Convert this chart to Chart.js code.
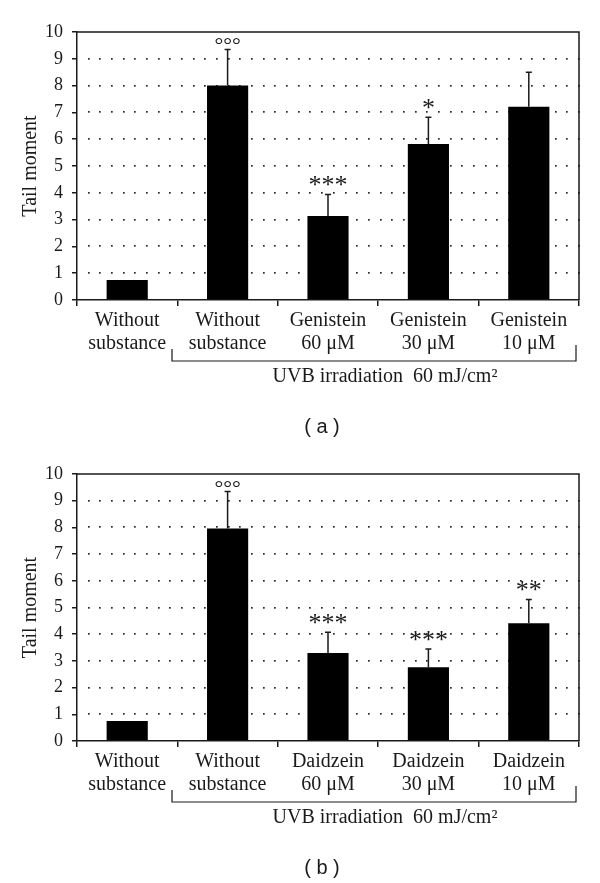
<!DOCTYPE html>
<html>
<head>
<meta charset="utf-8">
<script src="https://cdn.jsdelivr.net/npm/chart.js@4.4.1/dist/chart.umd.min.js"></script>
<style>
  html, body { margin: 0; padding: 0; background: #fff; }
  #wrap { position: relative; width: 600px; height: 883px; }
  canvas { position: absolute; left: 0; }
</style>
</head>
<body>
<div id="wrap">
  <canvas id="chartA" width="600" height="441" style="top:0"></canvas>
  <canvas id="chartB" width="600" height="442" style="top:441px"></canvas>
</div>
<script>
// ---- data ----
const categoriesA = [["Without", "substance"], ["Without", "substance"], ["Genistein", "60 μM"], ["Genistein", "30 μM"], ["Genistein", "10 μM"]];
const valuesA = [0.75, 8.0, 3.13, 5.82, 7.21];
const errorsA = [0, 1.35, 0.81, 1.0, 1.29];
const marksA = ["", "°°°", "***", "*", ""];

const categoriesB = [["Without", "substance"], ["Without", "substance"], ["Daidzein", "60 μM"], ["Daidzein", "30 μM"], ["Daidzein", "10 μM"]];
const valuesB = [0.75, 7.96, 3.30, 2.76, 4.41];
const errorsB = [0, 1.38, 0.77, 0.69, 0.89];
const marksB = ["", "°°°", "***", "***", "**"];

const yMin = 0, yMax = 10, yStep = 1;
const yTitle = "Tail moment";
const groupLabel = "UVB irradiation  60 mJ/cm²";

const INK = '#1a1a1a';
const SERIF = "'Liberation Serif', 'Times New Roman', serif";
const SANS = "'Liberation Sans', Arial, sans-serif";

function makeChart(id, cats, vals, errs, marks, caption, topPad, canvasH) {
  const extras = {
    id: 'extras_' + id,
    beforeDatasetsDraw(chart) {
      const {ctx, chartArea: a, scales: {y}} = chart;
      ctx.save();
      ctx.fillStyle = '#2a2a2a';
      const n = 43;
      const step = (a.right - a.left) / n;
      for (let v = yMin + yStep; v < yMax; v += yStep) {
        const py = Math.round(y.getPixelForValue(v));
        for (let k = 1; k <= n; k++) {
          const px = a.left + k * step;
          ctx.fillRect(Math.round(px) - 1, py - 1, 1.7, 1.7);
        }
      }
      ctx.restore();
    },
    afterDatasetsDraw(chart) {
      const {ctx, chartArea: a, scales: {y}} = chart;
      const meta = chart.getDatasetMeta(0);
      ctx.save();
      // frame top + right
      ctx.strokeStyle = INK;
      ctx.lineWidth = 1.5;
      ctx.beginPath();
      ctx.moveTo(a.left, a.top);
      ctx.lineTo(a.right, a.top);
      ctx.lineTo(a.right, a.bottom);
      ctx.stroke();
      // error bars + marks
      vals.forEach((v, i) => {
        const x = meta.data[i].x;
        const yb = y.getPixelForValue(v);
        const yt = y.getPixelForValue(v + errs[i]);
        if (errs[i] > 0) {
          ctx.lineWidth = 1.5;
          ctx.beginPath();
          ctx.moveTo(x, yb);
          ctx.lineTo(x, yt);
          ctx.moveTo(x - 3, yt);
          ctx.lineTo(x + 3, yt);
          ctx.stroke();
        }
        if (marks[i]) {
          ctx.fillStyle = INK;
          ctx.textAlign = 'center';
          ctx.textBaseline = 'alphabetic';
          if (marks[i].startsWith('°')) {
            ctx.font = '22px ' + SERIF;
            ctx.fillText(marks[i], x, yt + 3);
          } else {
            ctx.font = '26px ' + SERIF;
            ctx.fillText(marks[i], x, yt - 1);
          }
        }
      });
      // bracket
      const b = a.bottom;
      const bl = a.left + 95, br = a.right - 3;
      ctx.lineWidth = 1.2;
      ctx.beginPath();
      ctx.moveTo(bl, b + 49);
      ctx.lineTo(bl, b + 61);
      ctx.lineTo(br, b + 61);
      ctx.lineTo(br, b + 45);
      ctx.stroke();
      ctx.fillStyle = INK;
      ctx.textAlign = 'center';
      ctx.textBaseline = 'middle';
      ctx.font = '20px ' + SERIF;
      ctx.fillText(groupLabel, 385, b + 77);
      ctx.font = '20px ' + SANS;
      ctx.fillText(caption, 322, b + 127);
      ctx.restore();
    }
  };

  return new Chart(document.getElementById(id), {
    type: 'bar',
    data: {
      labels: cats,
      datasets: [{
        data: vals,
        backgroundColor: '#000',
        borderWidth: 0,
        barPercentage: 0.41,
        categoryPercentage: 1
      }]
    },
    options: {
      responsive: false,
      animation: false,
      devicePixelRatio: 1,
      layout: { padding: { top: topPad, right: 21, left: 0, bottom: 0 } },
      plugins: { legend: { display: false }, tooltip: { enabled: false } },
      scales: {
        x: {
          grid: { display: true, offset: true, drawOnChartArea: false, drawTicks: true, tickLength: 6, color: INK, lineWidth: 1.5 },
          border: { display: true, color: INK, width: 1.5 },
          ticks: { color: INK, font: { family: SERIF, size: 20, lineHeight: 1.15 }, padding: 3, maxRotation: 0, autoSkip: false },
          afterFit(s) { s.height = canvasH - 300; }
        },
        y: {
          min: yMin, max: yMax,
          ticks: { stepSize: yStep, color: INK, font: { family: SERIF, size: 18 }, padding: 9 },
          grid: { display: true, drawOnChartArea: false, drawTicks: true, tickLength: 5, color: INK, lineWidth: 1.5 },
          border: { display: true, color: INK, width: 1.5 },
          title: { display: true, text: yTitle, color: INK, font: { family: SERIF, size: 20, lineHeight: 1.2 }, padding: { top: 19, bottom: 0 } },
          afterFit(s) { s.width = 77; }
        }
      }
    },
    plugins: [extras]
  });
}

makeChart('chartA', categoriesA, valuesA, errorsA, marksA, '( a )', 32, 441);
makeChart('chartB', categoriesB, valuesB, errorsB, marksB, '( b )', 33, 442);
</script>
</body>
</html>
